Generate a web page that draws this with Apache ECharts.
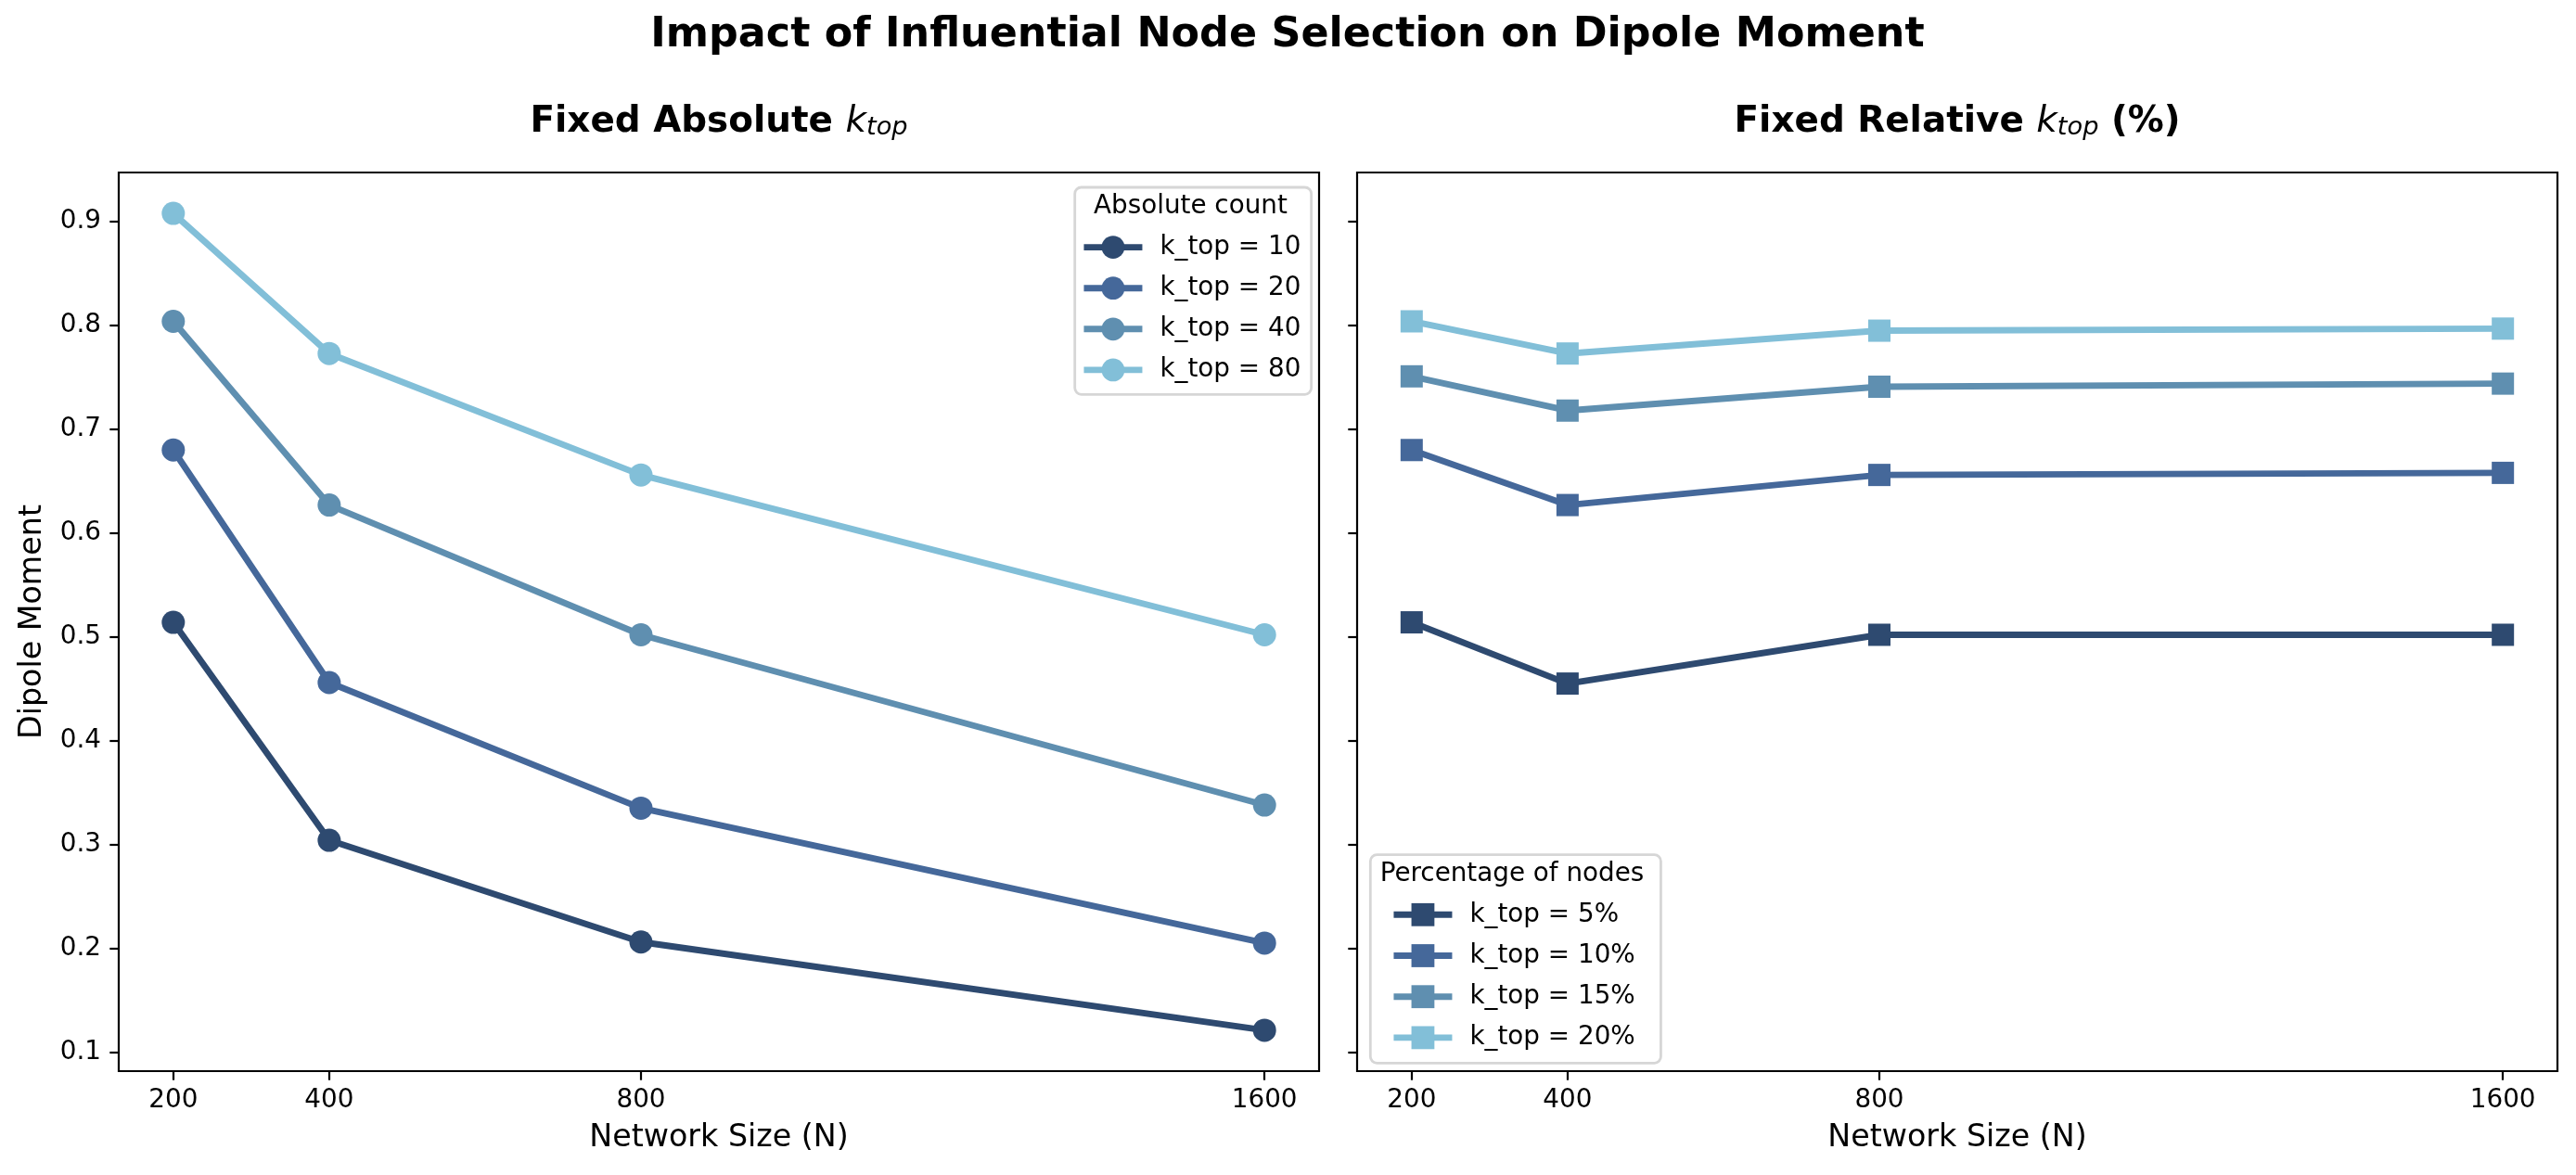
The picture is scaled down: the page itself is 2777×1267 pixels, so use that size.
<!DOCTYPE html>
<html>
<head>
<meta charset="utf-8">
<script src="https://cdn.jsdelivr.net/npm/echarts@6/dist/echarts.min.js"></script>
<style>
html,body{margin:0;padding:0;background:#fff;}
#chart{width:2777px;height:1267px;}
</style>
</head>
<body>
<div id="chart"></div>
<script>
// ---- data ----
const networkSizes = [200, 400, 800, 1600];
const xTicks = [200, 400, 800, 1600];
const yTicks = [0.1, 0.2, 0.3, 0.4, 0.5, 0.6, 0.7, 0.8, 0.9];

const absNames = ['k_top = 10', 'k_top = 20', 'k_top = 40', 'k_top = 80'];
const abs10 = [0.514, 0.304, 0.206, 0.121];
const abs20 = [0.680, 0.456, 0.335, 0.205];
const abs40 = [0.804, 0.627, 0.502, 0.338];
const abs80 = [0.908, 0.773, 0.656, 0.502];

const relNames = ['k_top = 5%', 'k_top = 10%', 'k_top = 15%', 'k_top = 20%'];
const rel5 = [0.514, 0.455, 0.502, 0.502];
const rel10 = [0.680, 0.627, 0.656, 0.658];
const rel15 = [0.751, 0.718, 0.741, 0.744];
const rel20 = [0.804, 0.773, 0.795, 0.797];

const palette = ['#2e4a70', '#45689a', '#5f8fb0', '#82bfd8'];

// ---- styles ----
const FONT = 'DejaVu Sans';
const LW = 6.9;
const absSeriesVals = [abs10, abs20, abs40, abs80];
const relSeriesVals = [rel5, rel10, rel15, rel20];

function pairs(vals) { return networkSizes.map((n, i) => [n, vals[i]]); }

const series = [];
absSeriesVals.forEach((vals, i) => {
  series.push({
    name: absNames[i], type: 'line', xAxisIndex: 0, yAxisIndex: 0,
    data: pairs(vals), symbol: 'circle', symbolSize: 25,
    lineStyle: {width: LW, color: palette[i]},
    itemStyle: {color: palette[i]},
    emphasis: {disabled: true}, z: 2 + i
  });
});
relSeriesVals.forEach((vals, i) => {
  series.push({
    name: relNames[i], type: 'line', xAxisIndex: 1, yAxisIndex: 1,
    data: pairs(vals), symbol: 'rect', symbolSize: 24,
    lineStyle: {width: LW, color: palette[i]},
    itemStyle: {color: palette[i]},
    emphasis: {disabled: true}, z: 2 + i
  });
});

function xAxis(gridIndex) {
  return {
    type: 'value', gridIndex: gridIndex, min: 130, max: 1670,
    name: 'Network Size (N)', nameLocation: 'middle', nameGap: 56,
    nameTextStyle: {fontFamily: FONT, fontSize: 33.3, color: '#000'},
    axisLine: {show: false},
    splitLine: {show: false},
    axisTick: {show: true, customValues: xTicks, length: 9.7, lineStyle: {color: '#000', width: 2.2}},
    axisLabel: {show: true, customValues: xTicks, margin: 18, fontFamily: FONT, fontSize: 27.8, color: '#000',
      formatter: v => String(v)}
  };
}
function yAxis(gridIndex, showLabels) {
  const ax = {
    type: 'value', gridIndex: gridIndex, min: 0.0816, max: 0.9474,
    axisLine: {show: false},
    splitLine: {show: false},
    axisTick: {show: true, customValues: yTicks, length: 9.7, lineStyle: {color: '#000', width: 2.2}},
    axisLabel: {show: showLabels, customValues: yTicks, margin: 19, fontFamily: FONT, fontSize: 27.8, color: '#000',
      formatter: v => v.toFixed(1)}
  };
  if (showLabels) {
    ax.name = 'Dipole Moment';
    ax.nameLocation = 'middle';
    ax.nameGap = 76;
    ax.nameTextStyle = {fontFamily: FONT, fontSize: 33.3, color: '#000'};
  }
  return ax;
}

const subRich = {
  b: {fontFamily: FONT, fontWeight: 'bold', fontSize: 38.9, lineHeight: 40, color: '#000'},
  k: {fontFamily: FONT, fontStyle: 'italic', fontWeight: 'normal', fontSize: 38.9, lineHeight: 40, color: '#000'},
  s: {fontFamily: FONT, fontStyle: 'italic', fontWeight: 'normal', fontSize: 27.2, lineHeight: 20, verticalAlign: 'bottom', color: '#000'}
};

const legendBase = {
  orient: 'vertical', itemWidth: 63, itemHeight: 31,
  backgroundColor: '#fff', borderColor: '#d6d6d6', borderWidth: 2.8, borderRadius: 7,
  textStyle: {fontFamily: FONT, fontSize: 27.8, color: '#000', padding: [0, 0, 0, 14]},
  lineStyle: {width: LW},
  selectedMode: false
};

const option = {
  backgroundColor: '#fff',
  animation: false,
  title: [
    {text: 'Impact of Influential Node Selection on Dipole Moment', left: 1388, top: 38.5,
      textAlign: 'center', textVerticalAlign: 'middle', padding: 0,
      textStyle: {fontFamily: FONT, fontWeight: 'bold', fontSize: 44.4, color: '#000'}},
    {text: '{b|Fixed Absolute }{k|k}{s|top}', left: 775, top: 131.5,
      textAlign: 'center', textVerticalAlign: 'middle', padding: 0,
      textStyle: {rich: subRich}},
    {text: '{b|Fixed Relative }{k|k}{s|top}{b| (%)}', left: 2110, top: 131.5,
      textAlign: 'center', textVerticalAlign: 'middle', padding: 0,
      textStyle: {rich: subRich}},
    {text: 'Absolute count', left: 1283.4, top: 223.1,
      textAlign: 'center', textVerticalAlign: 'middle', padding: 0, z: 10,
      textStyle: {fontFamily: FONT, fontWeight: 'normal', fontSize: 27.8, color: '#000'}},
    {text: 'Percentage of nodes', left: 1630, top: 942.7,
      textAlign: 'center', textVerticalAlign: 'middle', padding: 0, z: 10,
      textStyle: {fontFamily: FONT, fontWeight: 'normal', fontSize: 27.8, color: '#000'}}
  ],
  grid: [
    {left: 128, right: 1355, top: 186, bottom: 112, show: true, borderColor: '#000', borderWidth: 2.2, backgroundColor: 'transparent'},
    {left: 1463, right: 20, top: 186, bottom: 112, show: true, borderColor: '#000', borderWidth: 2.2, backgroundColor: 'transparent'}
  ],
  xAxis: [xAxis(0), xAxis(1)],
  yAxis: [yAxis(0, true), yAxis(1, false)],
  legend: [
    Object.assign({}, legendBase, {data: absNames, left: 1158.7, top: 202, itemGap: 16.1,
      padding: [50.6, 11.3, 12.4, 6.3]}),
    Object.assign({}, legendBase, {data: relNames, left: 1477.3, top: 921.7, itemGap: 16.2,
      padding: [50.6, 27.7, 13.4, 21.7]})
  ],
  series: series
};

const chart = echarts.init(document.getElementById('chart'), null, {renderer: 'canvas'});
chart.setOption(option);
</script>
</body>
</html>
